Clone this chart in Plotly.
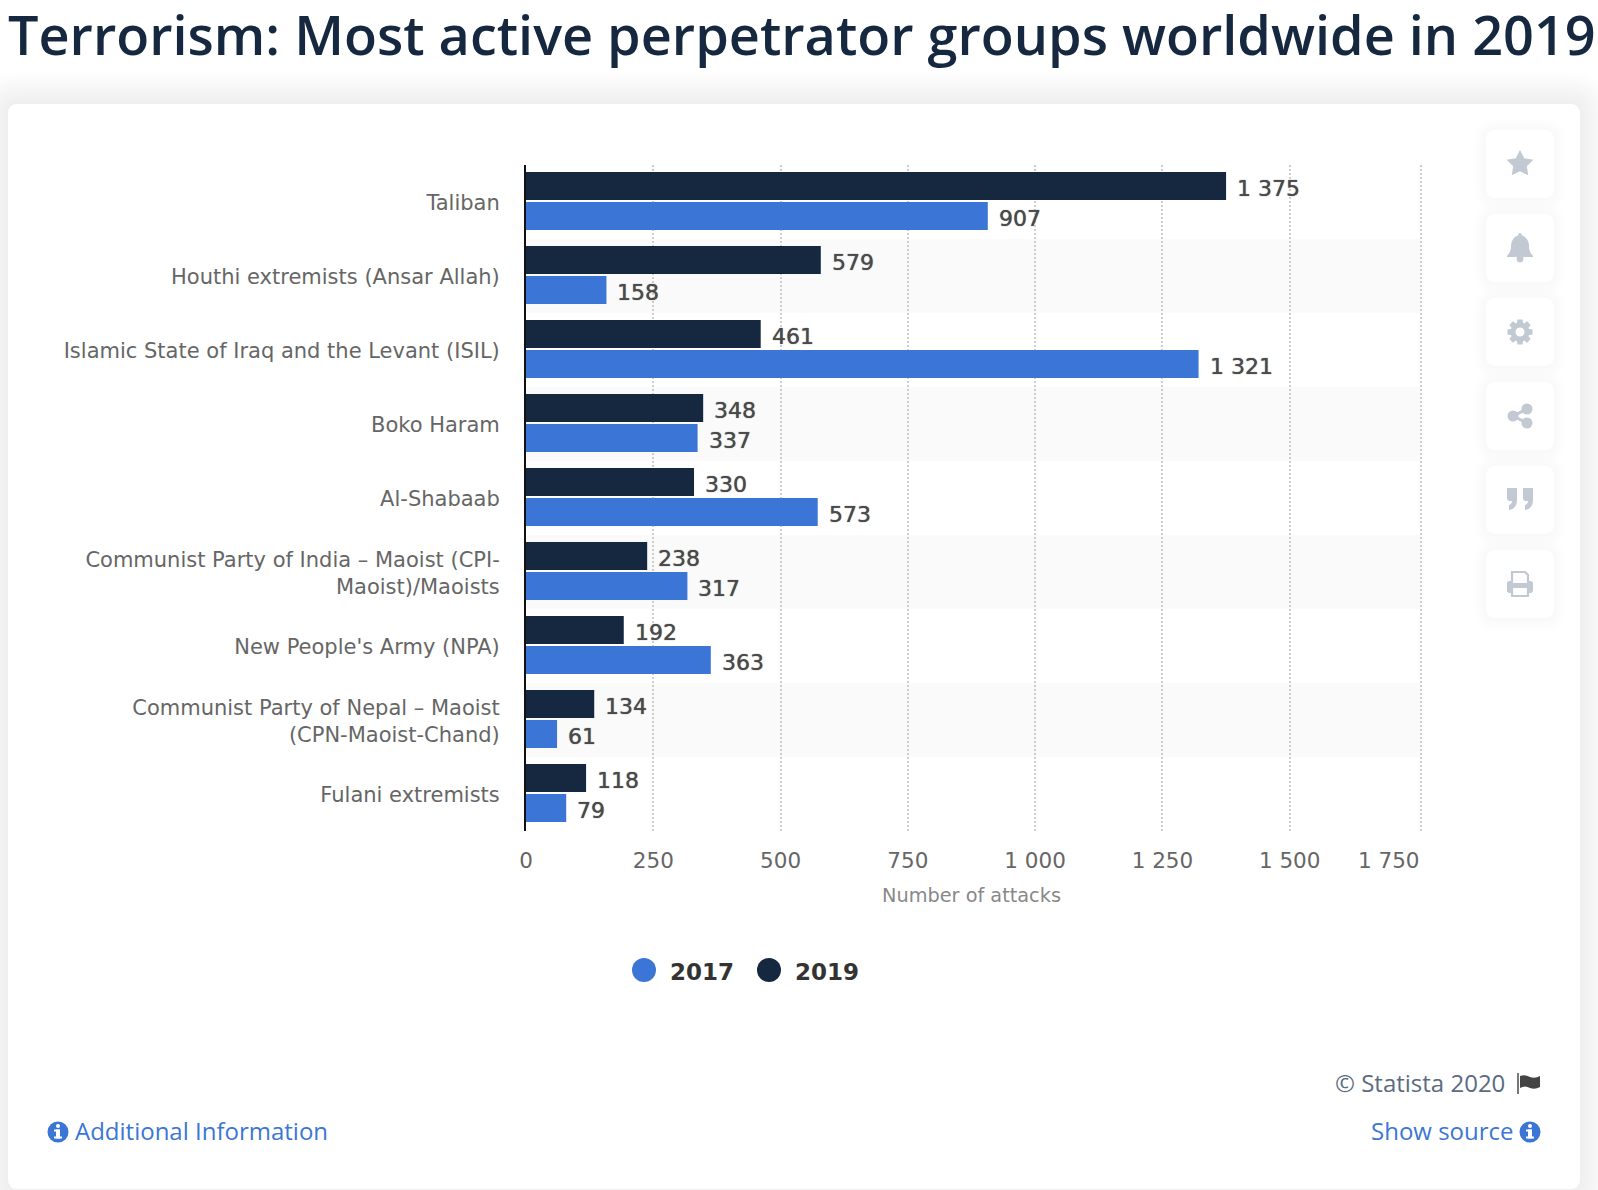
import math
import plotly.graph_objects as go

W, H = 1598, 1190
L, R, T, B = 526, 1417, 165, 831
BAND_END = 1421

categories = [
    "Taliban",
    "Houthi extremists (Ansar Allah)",
    "Islamic State of Iraq and the Levant (ISIL)",
    "Boko Haram",
    "Al-Shabaab",
    "Communist Party of India – Maoist (CPI-<br>Maoist)/Maoists",
    "New People's Army (NPA)",
    "Communist Party of Nepal – Maoist<br>(CPN-Maoist-Chand)",
    "Fulani extremists",
]
values_2019 = [1375, 579, 461, 348, 330, 238, 192, 134, 118]
values_2017 = [907, 158, 1321, 337, 573, 317, 363, 61, 79]
tick_values = [0, 250, 500, 750, 1000, 1250, 1500, 1750]
tick_labels = ["0", "250", "500", "750", "1\u00a0000", "1\u00a0250", "1\u00a0500", ""]
last_tick_label = "1\u00a0750"
series_names = ["2017", "2019"]

BLUE = "#3b76d6"
NAVY = "#15283f"
ICON = "#c2c9d3"
TXT = "#666666"
GRID = "#cdcdcd"
SANS = "DejaVu Sans"
UI = "Open Sans"


def px(x):
    return (x - L) / (R - L)


def py(y):
    return (B - y) / (B - T)


def path(cmds):
    out = []
    for c in cmds:
        if isinstance(c, str):
            out.append(c)
        else:
            out.append(f"{px(c[0]):.5f},{py(c[1]):.5f}")
    return " ".join(out)


def shape_path(cmds, fill, line=None, width=0):
    return dict(type="path", xref="paper", yref="paper", path=path(cmds), fillcolor=fill,
                line=dict(color=line or "rgba(0,0,0,0)", width=width), layer="below")


def rrect(x0, y0, x1, y1, r, fill):
    c = ["M", (x0 + r, y0), "L", (x1 - r, y0), "Q", (x1, y0), (x1, y0 + r),
         "L", (x1, y1 - r), "Q", (x1, y1), (x1 - r, y1),
         "L", (x0 + r, y1), "Q", (x0, y1), (x0, y1 - r),
         "L", (x0, y0 + r), "Q", (x0, y0), (x0 + r, y0), "Z"]
    return shape_path(c, fill)


def circle(cx, cy, r, fill):
    return dict(type="circle", xref="paper", yref="paper", x0=px(cx - r), x1=px(cx + r),
                y0=py(cy + r), y1=py(cy - r), fillcolor=fill, line=dict(width=0), layer="below")


def poly(points, fill):
    c = []
    for i, p in enumerate(points):
        c += ["M" if i == 0 else "L", p]
    c.append("Z")
    return shape_path(c, fill)


shapes = []

# card with soft shadow
for grow in range(32, 0, -2):
    shapes.append(rrect(8 - grow, 104 - grow, 1580 + grow, 1190 + grow, 10 + grow, "rgba(60,80,120,0.0033)"))
shapes.append(rrect(8, 104, 1580, 1189, 10, "#ffffff"))

# alternating bands
shift = 1 / 74
for i in range(1, len(categories), 2):
    shapes.append(dict(type="rect", xref="paper", yref="paper", x0=0, x1=px(BAND_END),
                       y0=py(T + 74 * (i + 1)), y1=py(T + 74 * i),
                       fillcolor="#fafafa", line=dict(width=0), layer="below"))
# last gridline sits at the right edge of the bands
shapes.append(dict(type="line", xref="paper", yref="paper", x0=px(BAND_END), x1=px(BAND_END), y0=0, y1=1,
                   line=dict(color=GRID, width=2, dash="2px,2px"), layer="below"))

# toolbar buttons
btn_tops = [130, 214, 298, 382, 466, 550]
for top in btn_tops:
    for grow in range(12, 0, -2):
        shapes.append(rrect(1486 - grow, top - grow + 1, 1554 + grow, top + 68 + grow + 1, 10 + grow,
                            "rgba(60,80,120,0.004)"))
    shapes.append(rrect(1486, top, 1554, top + 68, 10, "#ffffff"))

cx = 1520
# star
cy = 164
pts = []
for k in range(10):
    r = 14 if k % 2 == 0 else 7.2
    a = -math.pi / 2 + k * math.pi / 5
    pts.append((cx + r * math.cos(a), cy + r * math.sin(a)))
shapes.append(poly(pts, ICON))
# bell
cy = 247
shapes.append(shape_path(["M", (cx, cy - 14), "Q", (cx + 2, cy - 14), (cx + 2, cy - 11.5),
                          "Q", (cx + 9, cy - 9), (cx + 9, cy - 1), "Q", (cx + 9, cy + 5), (cx + 13, cy + 9),
                          "L", (cx + 13, cy + 10), "L", (cx - 13, cy + 10), "L", (cx - 13, cy + 9),
                          "Q", (cx - 9, cy + 5), (cx - 9, cy - 1), "Q", (cx - 9, cy - 9), (cx - 2, cy - 11.5),
                          "Q", (cx - 2, cy - 14), (cx, cy - 14), "Z"], ICON))
shapes.append(circle(cx, cy + 12, 3.4, ICON))
# gear
cy = 332
pts = []
for k in range(8):
    a = k * math.pi / 4 - math.pi / 2
    for da, r in [(-0.33, 9.5), (-0.2, 12.8), (0.2, 12.8), (0.33, 9.5)]:
        pts.append((cx + r * math.cos(a + da), cy + r * math.sin(a + da)))
shapes.append(poly(pts, ICON))
shapes.append(circle(cx, cy, 4.5, "#ffffff"))
# share
cy = 416
shapes.append(shape_path(["M", (cx - 7, cy), "L", (cx + 7, cy - 7)], "rgba(0,0,0,0)", ICON, 3))
shapes.append(shape_path(["M", (cx - 7, cy), "L", (cx + 7, cy + 7)], "rgba(0,0,0,0)", ICON, 3))
shapes.append(circle(cx - 7, cy, 5.5, ICON))
shapes.append(circle(cx + 7, cy - 7, 5.5, ICON))
shapes.append(circle(cx + 7, cy + 7, 5.5, ICON))
# quote
cy = 499
for dx in (-13, 3):
    shapes.append(shape_path(["M", (cx + dx, cy - 11), "L", (cx + dx + 10, cy - 11), "L", (cx + dx + 10, cy + 1),
                              "Q", (cx + dx + 10, cy + 10), (cx + dx + 2, cy + 11), "L", (cx + dx + 2, cy + 6),
                              "Q", (cx + dx + 5, cy + 5), (cx + dx + 5, cy + 2), "L", (cx + dx + 3, cy + 2),
                              "Q", (cx + dx, cy + 2), (cx + dx, cy - 1), "Z"], ICON))
# printer
cy = 584
shapes.append(rrect(cx - 13, cy - 3, cx + 13, cy + 9, 2.5, ICON))
shapes.append(shape_path(["M", (cx - 8, cy - 1), "L", (cx - 8, cy - 12), "L", (cx + 5, cy - 12),
                          "L", (cx + 8, cy - 9), "L", (cx + 8, cy - 1)], "#ffffff", ICON, 2.2))
shapes.append(rrect(cx - 8, cy + 4, cx + 8, cy + 12, 0.5, "#ffffff"))
shapes.append(shape_path(["M", (cx - 8, cy + 4), "L", (cx - 8, cy + 12), "L", (cx + 8, cy + 12), "L", (cx + 8, cy + 4)],
                         "rgba(0,0,0,0)", ICON, 2.2))

# legend
legend_colors = [BLUE, NAVY]
legend_x = [644, 769]
for col, lx in zip(legend_colors, legend_x):
    shapes.append(circle(lx, 970, 12, col))

# footer icons
for icx in (58, 1530):
    shapes.append(circle(icx, 1132, 10.5, BLUE))
    shapes.append(circle(icx, 1126, 2, "#ffffff"))
    shapes.append(rrect(icx - 2, 1129.5, icx + 2, 1138.5, 0.2, "#ffffff"))
    shapes.append(rrect(icx - 4, 1129.5, icx + 2, 1131.5, 0.2, "#ffffff"))
    shapes.append(rrect(icx - 4, 1136.5, icx + 4, 1138.5, 0.2, "#ffffff"))
# flag
shapes.append(shape_path(["M", (1518, 1073), "L", (1518, 1094)], "rgba(0,0,0,0)", "#555555", 1.6))
shapes.append(shape_path(["M", (1520, 1076), "Q", (1525, 1074), (1530, 1077), "Q", (1535, 1079), (1540, 1076),
                          "L", (1540, 1087), "Q", (1535, 1090), (1530, 1088), "Q", (1525, 1085), (1520, 1088), "Z"],
                         "#444444"))

annotations = [
    dict(text="Terrorism: Most active perpetrator groups worldwide in 2019", xref="paper", yref="paper",
         x=px(6), y=py(34), xanchor="left", yanchor="middle", showarrow=False,
         font=dict(family=UI, size=54, color=NAVY, weight=600)),
    dict(text=last_tick_label, xref="paper", yref="paper", x=px(BAND_END + 1), y=py(860), xanchor="right",
         yanchor="middle", showarrow=False, font=dict(family=SANS, size=21.5, color=TXT)),
    dict(text="© Statista 2020", xref="paper", yref="paper", x=px(1507), y=py(1082), xanchor="right",
         yanchor="middle", showarrow=False, font=dict(family=UI, size=24, color="#5b6b80")),
    dict(text="Additional Information", xref="paper", yref="paper", x=px(73), y=py(1130), xanchor="left",
         yanchor="middle", showarrow=False, font=dict(family=UI, size=24, color=BLUE)),
    dict(text="Show source", xref="paper", yref="paper", x=px(1516), y=py(1130), xanchor="right",
         yanchor="middle", showarrow=False, font=dict(family=UI, size=24, color=BLUE)),
]
for name, lx in zip(series_names, [668, 793]):
    annotations.append(dict(text=name, xref="paper", yref="paper", x=px(lx), y=py(972), xanchor="left",
                            yanchor="middle", showarrow=False,
                            font=dict(family=SANS, size=23, color="#333333", weight=700)))

# value labels next to the bar ends
for vals, yshift in [(values_2019, 13), (values_2017, -17)]:
    for cat, v in zip(categories, vals):
        annotations.append(dict(
            text=f"{v:,}".replace(",", "\u00a0"), x=v, y=cat, xref="x", yref="y", xanchor="left", yanchor="middle",
            xshift=9, yshift=yshift, showarrow=False,
            font=dict(family=SANS, size=22, color="#4a4a4a", shadow="0 0 1px rgba(74,74,74,1)"),
        ))

fig = go.Figure()
for name, vals, col in [("2019", values_2019, NAVY), ("2017", values_2017, BLUE)]:
    fig.add_trace(go.Bar(name=name, y=categories, x=vals, orientation="h",
                         marker=dict(color=col, line=dict(width=0)), showlegend=False))

fig.update_layout(
    width=W, height=H, autosize=False, margin=dict(l=L, r=W - R, t=T, b=H - B, pad=0),
    paper_bgcolor="#ffffff", plot_bgcolor="rgba(0,0,0,0)", barmode="group",
    bargap=14 / 74, bargroupgap=2 / 30, shapes=shapes, annotations=annotations, showlegend=False,
    xaxis=dict(range=[0, 1750], tickmode="array", tickvals=tick_values[:-1], ticktext=tick_labels[:-1], showgrid=True,
               gridcolor=GRID, griddash="2px,2px", gridwidth=2, zeroline=False, showline=False, ticks="",
               ticklabelstandoff=14, tickfont=dict(family=SANS, size=21.5, color=TXT),
               title=dict(text="Number of attacks", font=dict(family=SANS, size=19.3, color="#888888"), standoff=16)),
    yaxis=dict(type="category", categoryorder="array", categoryarray=categories,
               range=[len(categories) - 0.5 + shift, -0.5 + shift], showgrid=False, zeroline=False,
               showline=True, linecolor="#111111", linewidth=2, ticks="", ticklabelstandoff=20, ticklabelshift=-2,
               tickfont=dict(family=SANS, size=21, color=TXT)),
)

fig.write_html("out.html", config=dict(displayModeBar=False),
               post_script="document.body.style.margin='0';document.body.style.overflow='hidden';")
